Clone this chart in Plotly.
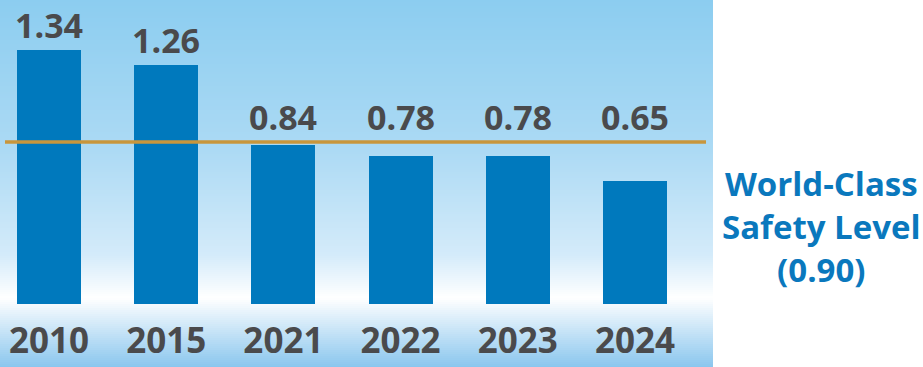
import plotly.graph_objects as go

# ---- data ----
years = ["2010", "2015", "2021", "2022", "2023", "2024"]
rates = [1.34, 1.26, 0.84, 0.78, 0.78, 0.65]
value_labels = ["1.34", "1.26", "0.84", "0.78", "0.78", "0.65"]
world_class_label = "0.90"
world_class_line_drawn = 0.855  # where the gold line sits in the picture

W, H = 923, 367
panel_w = 713
plot_h = 304
bottom = H - plot_h

BAR = "#0079bd"
TXT = "#4a4a4c"
GOLD = "#c8963c"
BLUE_TXT = "#0a78bd"

def lerp(c1, c2, t):
    return tuple(round(a + (b - a) * t) for a, b in zip(c1, c2))

stops = [(0, (140, 205, 240)), (150, (172, 218, 244)), (255, (212, 235, 250)),
         (298, (255, 255, 255)), (367, (138, 198, 238))]

def color_at(p):
    for (p0, c0), (p1, c1) in zip(stops[:-1], stops[1:]):
        if p0 <= p <= p1:
            return lerp(c0, c1, (p - p0) / (p1 - p0))
    return stops[-1][1]

shapes = []
step = 2
for p in range(0, H, step):
    c = color_at(p + step / 2)
    shapes.append(dict(type="rect", xref="paper", yref="paper",
                       x0=0, x1=1, y0=(plot_h - p - step) / plot_h, y1=(plot_h - p) / plot_h,
                       fillcolor="rgb(%d,%d,%d)" % c, line=dict(width=0), layer="below"))

# gold reference line
shapes.append(dict(type="line", xref="paper", yref="y",
                   x0=5 / panel_w, x1=706 / panel_w,
                   y0=world_class_line_drawn, y1=world_class_line_drawn,
                   line=dict(color=GOLD, width=3.5), layer="above"))

fig = go.Figure()
fig.add_trace(go.Bar(
    x=list(range(len(years))), y=rates, width=0.546,
    marker=dict(color=BAR, line=dict(width=0)),
    hoverinfo="skip",
))

annotations = []
for i, (v, lab) in enumerate(zip(rates, value_labels)):
    annotations.append(dict(
        x=i, y=max(v, world_class_line_drawn), xref="x", yref="y",
        text=lab, showarrow=False, xanchor="center", yanchor="bottom", yshift=0,
        font=dict(family="Open Sans", size=34, color=TXT, weight="bold"),
    ))

annotations.append(dict(
    xref="paper", yref="paper", x=821 / panel_w, y=(plot_h - 226) / plot_h,
    xanchor="center", yanchor="middle", showarrow=False, align="center",
    text="World-Class<br>Safety Level<br>(" + world_class_label + ")",
    font=dict(family="Open Sans", size=33, color=BLUE_TXT, weight="bold"),
))

px_per_cat = 117.2
x0 = -49 / px_per_cat
x1 = x0 + panel_w / px_per_cat
ymax = plot_h / 189.6

fig.update_layout(
    width=W, height=H,
    margin=dict(l=0, r=W - panel_w, t=0, b=bottom, pad=0),
    paper_bgcolor="white", plot_bgcolor="rgba(0,0,0,0)",
    showlegend=False, shapes=shapes, bargap=0,
    xaxis=dict(range=[x0, x1], tickmode="array", tickvals=list(range(len(years))),
               ticktext=years, showgrid=False, zeroline=False, showline=False,
               ticks="", ticklabelstandoff=13, fixedrange=True,
               tickfont=dict(family="Open Sans", size=35, color=TXT, weight="bold")),
    yaxis=dict(range=[0, ymax], visible=False, showgrid=False, zeroline=False, fixedrange=True),
    annotations=annotations,
)

fig.write_html("out.html", config={"displayModeBar": False},
               post_script="document.body.style.margin='0';document.body.style.padding='0';")
